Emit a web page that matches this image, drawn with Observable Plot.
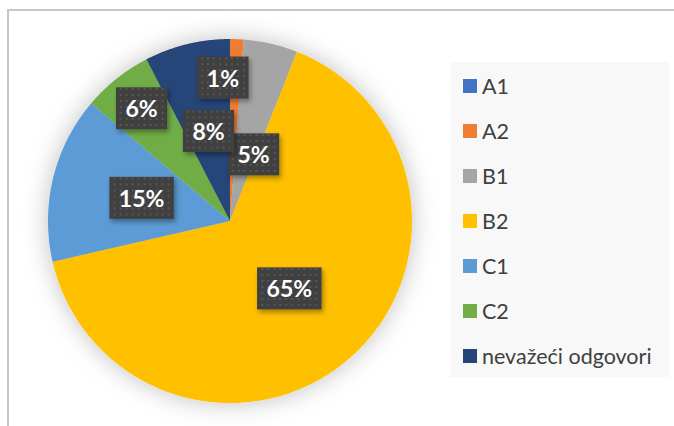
<!DOCTYPE html>
<html><head><meta charset="utf-8">
<script src="https://cdn.jsdelivr.net/npm/d3@7"></script>
<script src="https://cdn.jsdelivr.net/npm/@observablehq/plot@0.6"></script>
<style>
body{margin:0;background:#fff;}
#wrap{position:relative;width:674px;height:426px;overflow:hidden;font-family:Lato,sans-serif;}
#border{position:absolute;left:7px;top:9px;width:720px;height:500px;border:2px solid #c8c8c8;box-sizing:border-box;}
#chart{position:absolute;left:0;top:0;}
#legend{position:absolute;left:450px;top:62px;width:219px;height:315px;background:#f8f8f8;padding:1px 0 0 13px;box-sizing:border-box;}
#legend .lg-swatch{height:45px !important;display:flex !important;align-items:center !important;font-family:Lato,sans-serif !important;font-size:21.5px !important;color:#404040 !important;padding:0 !important;margin:0 !important;}
#legend .lg-swatches{font-size:21.5px !important;font-family:Lato,sans-serif !important;color:#404040 !important;margin:0 !important;}
#legend svg{margin-right:5px !important;}
</style></head><body>
<div id="wrap"><div id="border"></div><div id="chart"></div><div id="legend"></div></div>
<script>
const categories = ["A1","A2","B1","B2","C1","C2","nevažeći odgovori"];
const values = [0, 1.2, 4.8, 65.4, 14.8, 6.2, 7.6];
const labels = ["", "1%", "5%", "65%", "15%", "6%", "8%"];
const colors = ["#4472C4","#ED7D31","#A5A5A5","#FFC000","#5B9BD5","#70AD47","#264478"];
// label placement: fraction of radius and angular nudge (degrees)
const labelRadius = [0.5, 0.78, 0.38, 0.5, 0.5, 0.78, 0.5];
const labelNudge = [0, -5, 7, 0, 0, 0, 0];

const cx = 229.5, cy = 220.5, R = 182;
const data = categories.map((name, i) => ({name, value: values[i], label: labels[i], lr: labelRadius[i], ln: labelNudge[i]}));
const arcs = d3.pie().sort(null).value(d => d.value).startAngle(0).endAngle(2 * Math.PI)(data);

const slicePts = [];
const labelPts = [];
for (const a of arcs) {
  if (a.data.value <= 0) continue;
  const n = Math.max(2, Math.ceil((a.endAngle - a.startAngle) / 0.01));
  slicePts.push({name: a.data.name, x: 0, y: 0});
  for (let k = 0; k <= n; k++) {
    const t = a.startAngle + (a.endAngle - a.startAngle) * k / n;
    slicePts.push({name: a.data.name, x: Math.sin(t), y: Math.cos(t)});
  }
  const m = (a.startAngle + a.endAngle) / 2 + a.data.ln * Math.PI / 180;
  if (a.data.label) labelPts.push({label: a.data.label, x: a.data.lr * Math.sin(m), y: a.data.lr * Math.cos(m)});
}

const plot = Plot.plot({
  width: 674, height: 426, margin: 0,
  x: {domain: [-1, 1], range: [cx - R, cx + R], axis: null},
  y: {domain: [-1, 1], range: [cy + R, cy - R], axis: null},
  color: {domain: categories, range: colors},
  style: {background: "transparent", overflow: "visible"},
  marks: [
    Plot.line(slicePts, {x: "x", y: "y", z: "name", fill: "name", stroke: "none", curve: "linear-closed"}),
    Plot.text(labelPts, {x: "x", y: "y", text: "label", fill: "white", fontSize: 23, fontWeight: "bold", fontFamily: "Lato"})
  ]
});
document.getElementById("chart").appendChild(plot);

const svg = d3.select(plot);
const defs = svg.insert("defs", ":first-child");
const f1 = defs.append("filter").attr("id", "pieShadow").attr("x", "-30%").attr("y", "-30%").attr("width", "160%").attr("height", "160%");
f1.append("feDropShadow").attr("dx", 0).attr("dy", 0).attr("stdDeviation", 12).attr("flood-color", "#000").attr("flood-opacity", 0.25);
const f2 = defs.append("filter").attr("id", "boxShadow").attr("x", "-30%").attr("y", "-30%").attr("width", "160%").attr("height", "160%");
f2.append("feDropShadow").attr("dx", 2).attr("dy", 3).attr("stdDeviation", 2.5).attr("flood-color", "#000").attr("flood-opacity", 0.35);
const pat = defs.append("pattern").attr("id", "dots").attr("width", 6).attr("height", 6).attr("patternUnits", "userSpaceOnUse");
pat.append("rect").attr("width", 6).attr("height", 6).attr("fill", "#404040");
pat.append("rect").attr("x", 2).attr("y", 2).attr("width", 2).attr("height", 2).attr("fill", "#565656");

svg.select('g[aria-label="line"]').attr("filter", "url(#pieShadow)");
svg.selectAll('g[aria-label="text"] text').each(function() {
  const b = this.getBBox();
  const w = b.width + 19, h = 42;
  const x = b.x + b.width / 2 - w / 2, y = b.y + b.height / 2 - h / 2;
  const tr = this.getAttribute("transform");
  const r = d3.select(this.parentNode).insert("rect", () => this)
    .attr("x", x + (this.getAttribute("x") ? 0 : 0)).attr("y", y).attr("width", w).attr("height", h)
    .attr("fill", "url(#dots)").attr("filter", "url(#boxShadow)");
  if (tr) r.attr("transform", tr);
});

const leg = Plot.legend({color: {type: "ordinal", domain: categories, range: colors}, legend: "swatches", columns: 1, swatchSize: 14, className: "lg"});
document.getElementById("legend").appendChild(leg);
</script></body></html>
